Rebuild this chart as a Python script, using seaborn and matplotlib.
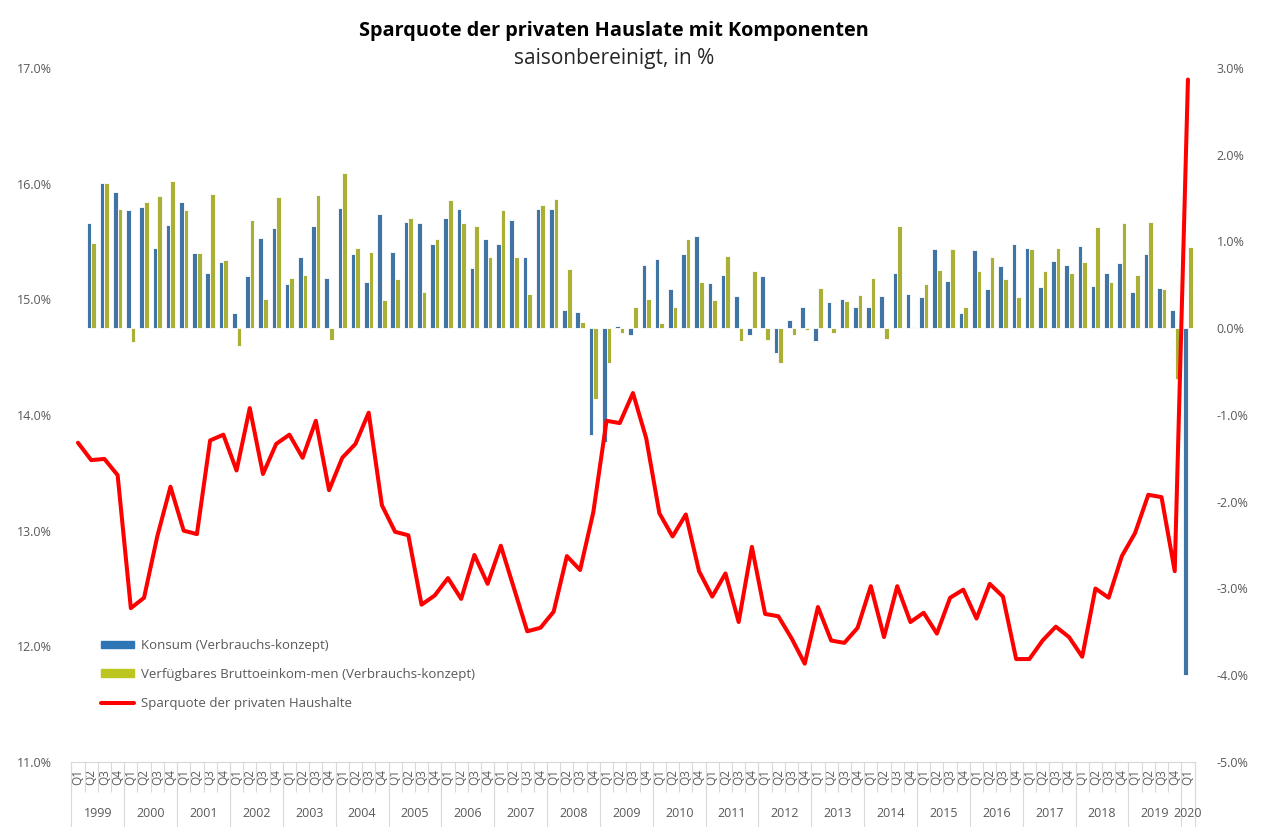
import numpy as np
import pandas as pd
import seaborn as sns
from matplotlib import pyplot as plt
from matplotlib.patches import Patch
from matplotlib.lines import Line2D

# categories
jahre = [str(j) for j in range(1999, 2021)]
quartale = ["Q1", "Q2", "Q3", "Q4"]
quartal_ids = [j + " " + q for j in jahre[:-1] for q in quartale] + ["2020 Q1"]
quartal_labels = [q.split(" ")[1] for q in quartal_ids]

# Veraenderung gg. Vorquartal, rechte Achse (1999 Q1 ohne Wert)
konsum = [np.nan, 1.21, 1.67, 1.57, 1.36, 1.40, 0.93, 1.19, 1.45, 0.87,
          0.64, 0.76, 0.18, 0.60, 1.04, 1.15, 0.51, 0.82, 1.18, 0.58,
          1.39, 0.85, 0.53, 1.32, 0.88, 1.22, 1.21, 0.97, 1.27, 1.37,
          0.70, 1.03, 0.97, 1.25, 0.82, 1.38, 1.38, 0.21, 0.19, -1.23,
          -1.31, 0.03, -0.08, 0.73, 0.80, 0.45, 0.85, 1.06, 0.52, 0.61,
          0.37, -0.08, 0.60, -0.28, 0.09, 0.25, -0.15, 0.30, 0.34, 0.25,
          0.25, 0.37, 0.64, 0.39, 0.36, 0.91, 0.55, 0.18, 0.90, 0.45,
          0.72, 0.97, 0.93, 0.48, 0.78, 0.73, 0.95, 0.49, 0.64, 0.75,
          0.42, 0.85, 0.46, 0.21, -4.00]
einkommen = [np.nan, 0.98, 1.67, 1.37, -0.16, 1.46, 1.52, 1.70, 1.36, 0.87,
             1.55, 0.79, -0.21, 1.25, 0.34, 1.51, 0.58, 0.61, 1.54, -0.13,
             1.79, 0.93, 0.88, 0.33, 0.57, 1.27, 0.42, 1.03, 1.48, 1.21,
             1.18, 0.82, 1.36, 0.82, 0.40, 1.42, 1.49, 0.68, 0.07, -0.81,
             -0.40, -0.05, 0.25, 0.34, 0.06, 0.25, 1.03, 0.53, 0.33, 0.83,
             -0.15, 0.66, -0.13, -0.40, -0.08, -0.02, 0.46, -0.05, 0.31, 0.38,
             0.58, -0.12, 1.18, 0.02, 0.51, 0.67, 0.91, 0.25, 0.66, 0.82,
             0.57, 0.36, 0.91, 0.66, 0.93, 0.64, 0.76, 1.17, 0.53, 1.21,
             0.61, 1.22, 0.45, -0.58, 0.94]

# Sparquote, linke Achse
sparquote = [13.76, 13.61, 13.62, 13.48, 12.33, 12.42, 12.95, 13.38, 13.00, 12.97,
             13.78, 13.83, 13.52, 14.06, 13.49, 13.75, 13.83, 13.63, 13.95, 13.35,
             13.63, 13.75, 14.02, 13.22, 12.99, 12.96, 12.36, 12.44, 12.59, 12.41,
             12.79, 12.54, 12.87, 12.50, 12.13, 12.16, 12.30, 12.78, 12.66, 13.16,
             13.95, 13.93, 14.19, 13.80, 13.15, 12.95, 13.14, 12.65, 12.43, 12.63,
             12.21, 12.86, 12.28, 12.26, 12.07, 11.85, 12.34, 12.05, 12.03, 12.16,
             12.52, 12.08, 12.52, 12.21, 12.29, 12.11, 12.42, 12.49, 12.24, 12.54,
             12.43, 11.89, 11.89, 12.05, 12.17, 12.08, 11.91, 12.50, 12.42, 12.78,
             12.98, 13.31, 13.29, 12.65, 16.90]

namen = ["Konsum (Verbrauchs-konzept)",
         "Verfügbares Bruttoeinkom-men (Verbrauchs-konzept)",
         "Sparquote der privaten Haushalte"]
farben = ["#2E75B6", "#BDC520", "#FF0000"]
grau = "#595959"

sns.set_style("white")
plt.rcParams["font.family"] = ["Open Sans", "DejaVu Sans"]

df_bars = pd.DataFrame({"quartal": quartal_ids * 2,
                        "wert": konsum + einkommen,
                        "reihe": [namen[0]] * len(konsum) + [namen[1]] * len(einkommen)})
df_line = pd.DataFrame({"pos": np.arange(len(sparquote)), "wert": sparquote})

fig = plt.figure(figsize=(12.61, 8.27), dpi=100)
ax_bar = fig.add_axes([0.0566, 0.0786, 0.8907, 0.8392])
ax_line = ax_bar.twinx()

#bars (right axis)
sns.barplot(data=df_bars, x="quartal", y="wert", hue="reihe", order=quartal_ids,
            hue_order=namen[:2], palette=farben[:2], width=0.7, errorbar=None,
            edgecolor="white", linewidth=0.6, legend=False, ax=ax_bar)
ax_bar.set_ylim(-5, 3)
ax_bar.set_yticks(range(-5, 4))
ax_bar.set_yticklabels([f"{v:.1f}%" for v in range(-5, 4)])
ax_bar.yaxis.tick_right()

#line (left axis)
sns.lineplot(data=df_line, x="pos", y="wert", color=farben[2], linewidth=2.9, ax=ax_line)
ax_line.set_ylim(11, 17)
ax_line.set_yticks(range(11, 18))
ax_line.set_yticklabels([f"{v:.1f}%" for v in range(11, 18)])
ax_line.yaxis.tick_left()

ax_bar.set_xlim(-0.5, len(quartal_ids) - 0.5)
ax_bar.set_xticks(range(len(quartal_ids)))
ax_bar.set_xticklabels(quartal_labels, rotation=90, fontsize=8.5, color=grau)
ax_bar.tick_params(axis="x", length=0, pad=5)
ax_bar.tick_params(axis="y", length=0, pad=16, labelsize=9, labelcolor=grau)
ax_line.tick_params(axis="y", length=0, pad=14, labelsize=9, labelcolor=grau)

for a in [ax_bar, ax_line]:
    a.set_xlabel("")
    a.set_ylabel("")
    for s in a.spines.values():
        s.set_visible(False)
ax_bar.spines["bottom"].set_visible(True)
ax_bar.spines["bottom"].set_color("#D9D9D9")

# category box: quarter separators and year separators
trans = ax_bar.get_xaxis_transform()
grenzen = np.arange(len(quartal_ids) + 1) - 0.5
ax_bar.vlines(grenzen, -0.043, 0, transform=trans, color="#D9D9D9", linewidth=0.8, clip_on=False)
jahr_grenzen = [g for g in grenzen if (g + 0.5) % 4 == 0] + [grenzen[-1]]
ax_bar.vlines(jahr_grenzen, -0.1, 0, transform=trans, color="#D9D9D9", linewidth=0.8, clip_on=False)
for k, j in enumerate(jahre):
    start = k * 4
    ende = min(start + 3, len(quartal_ids) - 1)
    ax_bar.text((start + ende) / 2, -0.074, j, transform=trans, ha="center", va="center",
                fontsize=9, color=grau)

ax_line.set_zorder(ax_bar.get_zorder() + 1)
ax_line.patch.set_visible(False)

#legend
handles = [Patch(color=farben[0]), Patch(color=farben[1]),
           Line2D([0], [0], color=farben[2], linewidth=2.9)]
ax_line.legend(handles, namen, loc="upper left", bbox_to_anchor=(0.026, 0.177),
               frameon=False, fontsize=9.5, labelcolor=grau, handlelength=2.5,
               handleheight=0.55, labelspacing=1.2, handletextpad=0.55,
               borderaxespad=0, borderpad=0)

fig.text(0.487, 0.963, "Sparquote der privaten Hauslate mit Komponenten",
         ha="center", va="center", fontsize=14.3, fontweight="bold", color="black")
fig.text(0.487, 0.929, "saisonbereinigt, in %", ha="center", va="center",
         fontsize=15, color="#262626")

fig.savefig("out.png", dpi=100)
